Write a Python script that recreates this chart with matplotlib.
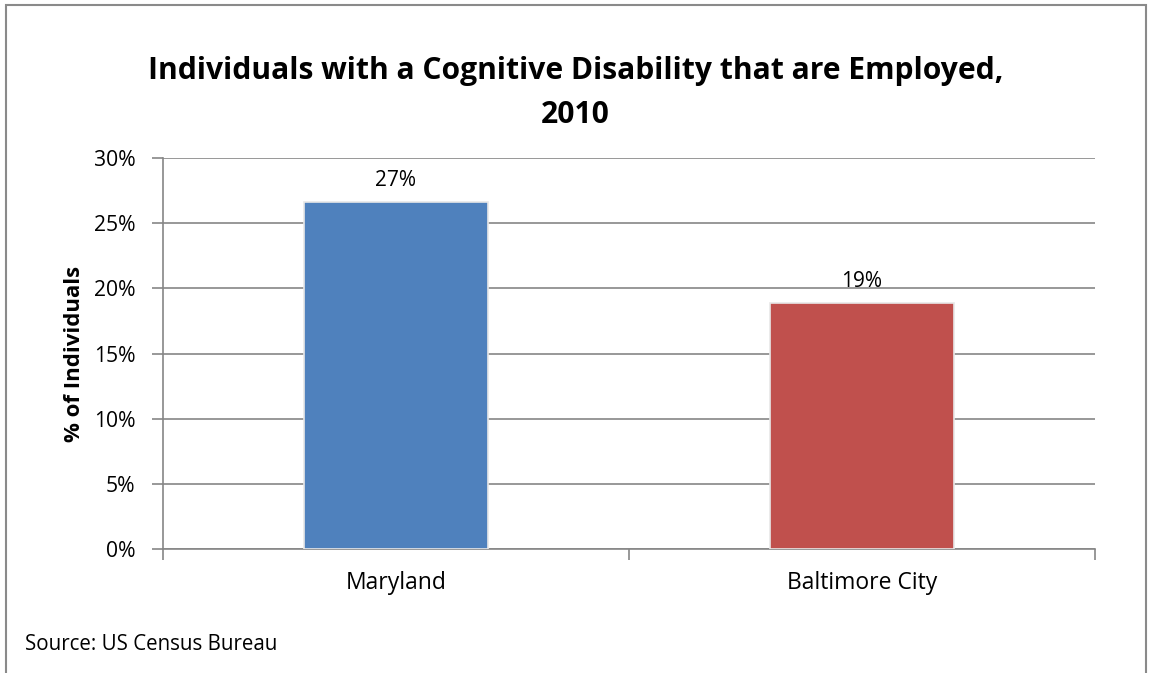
import matplotlib
matplotlib.use("Agg")
import matplotlib.pyplot as plt
from matplotlib.patches import Rectangle
from matplotlib.ticker import FuncFormatter, MultipleLocator

# data
regions = ["Maryland", "Baltimore City"]
employed_share = [0.266, 0.189]
bar_colors = ["#4F81BD", "#C0504D"]

plt.rcParams["font.family"] = ["Open Sans", "DejaVu Sans"]
grid_gray = "#868686"

fig = plt.figure(figsize=(11.51, 6.73), dpi=100)
ax = fig.add_axes([0.1416, 0.1842, 0.8097, 0.581])

x = list(range(len(regions)))
bars = ax.bar(x, employed_share, width=0.395, color=bar_colors,
              edgecolor="#e8e8e8", linewidth=1.2, zorder=3)

# value labels above bars
for rect, val in zip(bars, employed_share):
    ax.annotate(f"{val * 100:.0f}%",
                (rect.get_x() + rect.get_width() / 2, rect.get_height()),
                xytext=(0, 8), textcoords="offset points",
                ha="center", va="bottom", fontsize=15)

ax.set_ylim(0, 0.30)
ax.set_xlim(-0.5, len(regions) - 0.5)
ax.yaxis.set_major_locator(MultipleLocator(0.05))
ax.yaxis.set_major_formatter(FuncFormatter(lambda v, _: f"{v * 100:.0f}%"))
ax.grid(axis="y", color=grid_gray, linewidth=1.2, zorder=0)

ax.set_xticks(x)
ax.set_xticklabels(regions, fontsize=16.5)
ax.tick_params(axis="x", which="major", length=0, pad=16)
ax.set_xticks([-0.5, 0.5, 1.5], minor=True)
ax.tick_params(axis="x", which="minor", length=8, color=grid_gray, width=1.2)
ax.tick_params(axis="y", length=8, color=grid_gray, width=1.2, labelsize=15.2, pad=12)

for side in ["top", "right"]:
    ax.spines[side].set_visible(False)
for side in ["left", "bottom"]:
    ax.spines[side].set_color(grid_gray)
    ax.spines[side].set_linewidth(1.2)

ax.set_ylabel("% of Individuals", fontsize=16, fontweight="bold", labelpad=6)

fig.text(0.5, 1 - 93 / 673,
         "Individuals with a Cognitive Disability that are Employed,\n2010",
         ha="center", va="center", fontsize=21.6, fontweight="bold",
         linespacing=1.6)
fig.text(25 / 1151, 1 - 645 / 673, "Source: US Census Bureau",
         ha="left", va="center", fontsize=14.8)

# chart frame
fig.patches.append(Rectangle((6 / 1151, -0.05), 1140 / 1151, 1 - 5 / 673 + 0.05,
                             transform=fig.transFigure, fill=False,
                             edgecolor="#8a8a8a", linewidth=1.5))

fig.savefig("out.png", dpi=100)
